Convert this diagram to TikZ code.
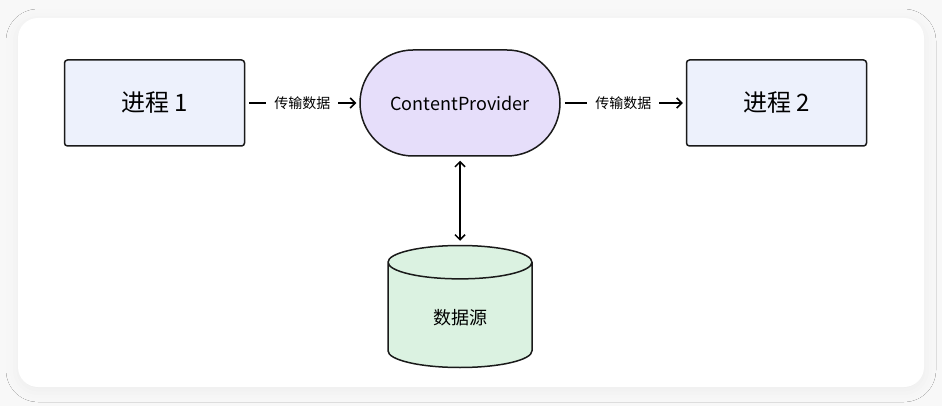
\documentclass[tikz,border=0pt]{standalone}
\usepackage{fontspec}
\setmainfont{Noto Sans CJK SC}
\usetikzlibrary{shapes.geometric}
\usetikzlibrary{positioning}
\usetikzlibrary{arrows.meta}
\usetikzlibrary{shadows.blur}
\definecolor{procblue}{HTML}{EDF1FC}
\definecolor{provpurple}{HTML}{E6DEFA}
\definecolor{storegreen}{HTML}{DBF2E1}
\definecolor{edgeblack}{HTML}{1A1A1A}
\definecolor{pagegray}{HTML}{F8F8F8}
\tikzstyle{process} = [rectangle, rounded corners=3pt, minimum width=180pt, minimum height=86pt, text centered, draw=edgeblack, line width=1.5pt, fill=procblue, font=\fontsize{24}{28}\selectfont]
\tikzstyle{provider} = [rectangle, rounded corners=53pt, minimum width=200pt, minimum height=106pt, text centered, draw=edgeblack, line width=1.5pt, fill=provpurple, font=\fontsize{18}{22}\selectfont]
\tikzstyle{database} = [cylinder, shape border rotate=90, aspect=0.55, minimum width=144pt, minimum height=122pt, text centered, draw=edgeblack, line width=1.5pt, fill=storegreen, font=\fontsize{18}{22}\selectfont]
\tikzstyle{arrow} = [line width=1.5pt, ->, >={Straight Barb[length=5pt,width=10pt]}, shorten <=4pt, shorten >=3pt]
\tikzstyle{twoway} = [line width=1.5pt, <->, >={Straight Barb[length=5pt,width=10pt]}, shorten <=4pt, shorten >=4pt]
\tikzstyle{tag} = [fill=white, inner xsep=8pt, font=\fontsize{14}{17}\selectfont]

\begin{document}
\begin{tikzpicture}[x=1pt, y=-1pt]
        \useasboundingbox (0,0) rectangle (942,406);
        \fill[pagegray] (0,0) rectangle (942,406);
        \fill[white, rounded corners=20pt, blur shadow={shadow xshift=0pt, shadow yshift=-3pt, shadow blur radius=12pt, shadow opacity=5}] (18,18) rectangle (924,387);

        \node (provider) [provider] at (460,103) {ContentProvider};
        \node (proc1) [process, left=114pt of provider] {进程 1};
        \node (proc2) [process, right=125pt of provider] {进程 2};
        \node (store) [database, below=88pt of provider] {数据源};

        \draw [arrow] (proc1) -- node[tag] {传输数据} (provider);
        \draw [arrow] (provider) -- node[tag] {传输数据} (proc2);
        \draw [twoway] (provider) -- (store);
    \end{tikzpicture}
\end{document}
